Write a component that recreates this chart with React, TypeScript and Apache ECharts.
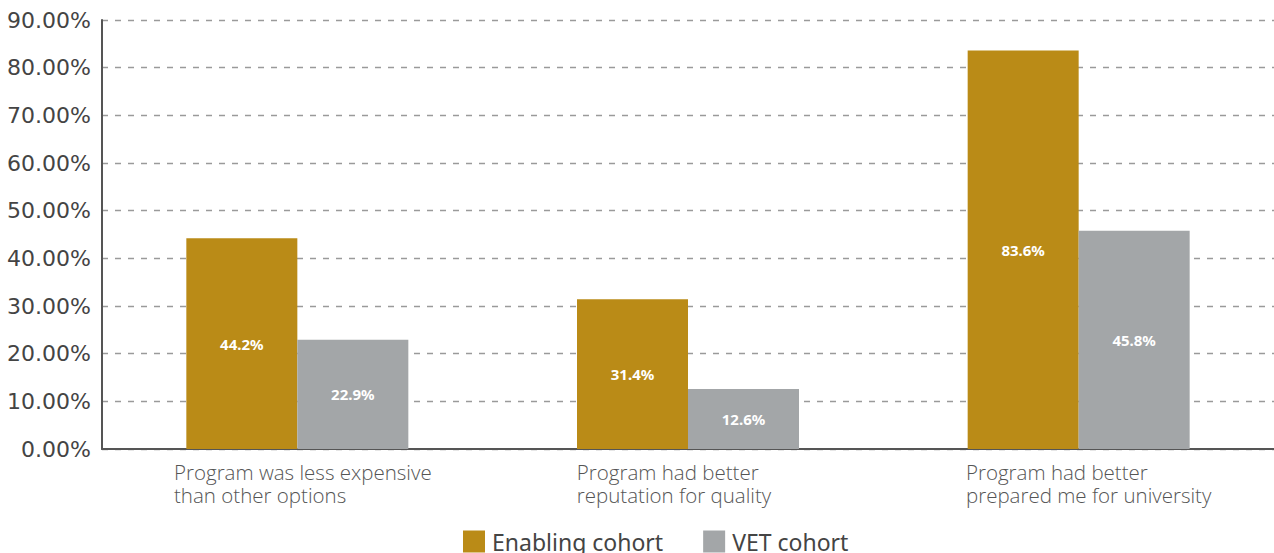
import React, { useEffect, useRef } from "react";
import * as echarts from "echarts";

const categories = [
  "Program was less expensive\nthan other options",
  "Program had better\nreputation for quality",
  "Program had better\nprepared me for university",
];
const seriesNames = ["Enabling cohort", "VET cohort"];
const enablingValues = [44.2, 31.4, 83.6];
const vetValues = [22.9, 12.6, 45.8];
const yTicks = { min: 0, max: 90, interval: 10 };

const GOLD = "#BA8B17";
const GREY = "#A3A6A8";

const catStyle = {
  align: "left",
  fontFamily: "Open Sans",
  fontWeight: 300,
  fontSize: 20.5,
  lineHeight: 23,
  color: "#555",
};

export default function App() {
  const ref = useRef<HTMLDivElement>(null);
  useEffect(() => {
    if (!ref.current) return;
    const chart = echarts.init(ref.current, null, { renderer: "svg" });
    chart.setOption({
      animation: false,
      backgroundColor: "#ffffff",
      grid: { left: 102, right: 0, top: 20, bottom: 104, containLabel: false },
      legend: {
        data: seriesNames,
        left: 463,
        top: 530,
        padding: 0,
        itemWidth: 22,
        itemHeight: 22,
        itemGap: 40,
        icon: "rect",
        textStyle: { fontFamily: "Noto Sans", fontSize: 23, color: "#444", padding: [0, 0, 0, 2] },
      },
      xAxis: {
        type: "category",
        data: categories,
        axisLine: { lineStyle: { color: "#555", width: 2 } },
        axisTick: { show: false },
        axisLabel: {
          margin: 11,
          formatter: (v: string, i: number) =>
            v
              .split("\n")
              .map((l) => `{c${i}|${l}}`)
              .join("\n"),
          rich: {
            c0: { ...catStyle, padding: [0, 0, 0, 11] },
            c1: { ...catStyle, padding: [0, 28, 0, 0] },
            c2: { ...catStyle, padding: [0, 0, 0, 20] },
          },
        },
        splitLine: { show: false },
      },
      yAxis: {
        type: "value",
        min: yTicks.min,
        max: yTicks.max,
        interval: yTicks.interval,
        axisLine: { show: true, lineStyle: { color: "#555", width: 2 } },
        axisTick: { show: false },
        axisLabel: {
          margin: 11,
          fontFamily: "DejaVu Sans",
          fontSize: 22,
          color: "#444",
          formatter: (v: number) => v.toFixed(2) + "%",
        },
        splitLine: { lineStyle: { color: "#9a9a9a", width: 1.3, type: [6, 7] } },
      },
      series: [
        {
          name: seriesNames[0],
          type: "bar",
          data: enablingValues,
          barWidth: 111,
          barGap: "0%",
          itemStyle: { color: GOLD },
          label: {
            show: true,
            position: "inside",
            color: "#fff",
            fontFamily: "Noto Sans",
            fontWeight: "bold",
            fontSize: 15,
            formatter: (p: any) => `${p.value}%`,
          },
        },
        {
          name: seriesNames[1],
          type: "bar",
          data: vetValues,
          barWidth: 111,
          barGap: "0%",
          itemStyle: { color: GREY },
          label: {
            show: true,
            position: "inside",
            color: "#fff",
            fontFamily: "Noto Sans",
            fontWeight: "bold",
            fontSize: 15,
            formatter: (p: any) => `${p.value}%`,
          },
        },
      ],
    });
    return () => chart.dispose();
  }, []);
  return (
    <div
      ref={ref}
      style={{ position: "absolute", left: 0, top: 0, width: 1274, height: 553 }}
    />
  );
}
